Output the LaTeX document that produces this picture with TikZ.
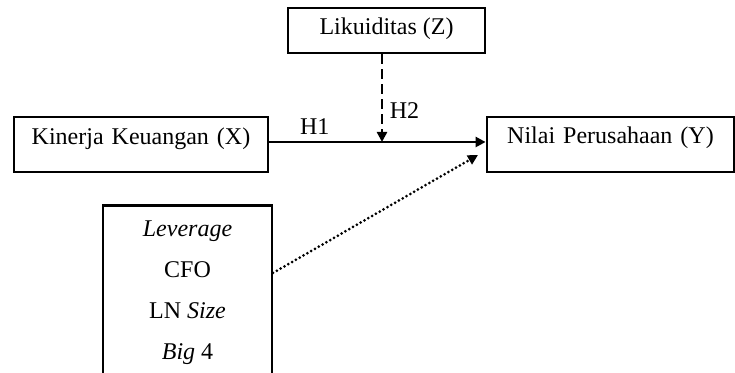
\documentclass[tikz,border=0pt]{standalone}
\usepackage{fontspec}
\setmainfont{Liberation Serif}
\usetikzlibrary{positioning}
\usetikzlibrary{calc}
\usetikzlibrary{arrows.meta}
\tikzset{
	box/.style={draw,line width=1.4pt,inner sep=0pt,align=center,font=\fontsize{12}{14}\selectfont},
	tip/.style={-{Triangle[length=5pt,width=5pt]}},
	every path/.style={line width=1.2pt},
	every node/.style={font=\fontsize{12}{14}\selectfont},
}

\begin{document}
\begin{tikzpicture}[x=0.5pt,y=-0.5pt]
			\useasboundingbox (0,0) rectangle (735,373);
			
			%moderator box.....................
			\node [box,minimum width=98.5pt,text height=13.5pt,text depth=9pt] (likuid) at (386.5,30.5) {Likuiditas (Z)};
			
			%independent and dependent boxes......................
			\node [box,text width=127pt,text height=14pt,text depth=13.5pt] (kinerja) at (141,144.5) {Kinerja Keuangan (X)};
			\node [box,text width=123.5pt,text height=13.5pt,text depth=14pt] (nilai) at (610.5,144.5) {Nilai Perusahaan (Y)};
			
			%control variables...................
			\node [box,anchor=north,minimum width=84.5pt,minimum height=87pt,font=\fontsize{12}{20.5}\selectfont,inner ysep=7pt] (kontrol) at (187.5,204)
				{\textit{Leverage}\\CFO\\LN \textit{Size}\\\textit{Big} 4};
			
			% H1 path...................
			\coordinate (mid) at (382,142);
			\draw [tip] (kinerja.east |- mid) to node [pos=0.21,above] {H1} (nilai.west |- mid);
			
			% H2 path...................
			\draw [tip,dash pattern=on 5pt off 2.5pt] (likuid.south -| mid) to node [pos=0.64,right] {H2} (mid);
			
			% control path...................
			\coordinate (kstart) at (273,273);
			\coordinate (kend) at (478,155);
			\draw [tip,line cap=round,line width=1.5pt,dash pattern=on 0pt off 2.2pt] (kstart) to (kend);
			
		\end{tikzpicture}
\end{document}
